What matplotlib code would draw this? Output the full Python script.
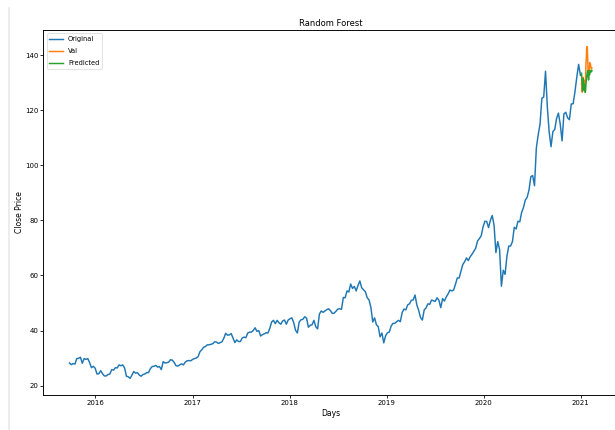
"""Random Forest close-price forecast: training history, validation and predictions."""
import matplotlib
matplotlib.use("Agg")
import matplotlib.pyplot as plt
from matplotlib.lines import Line2D
import pandas as pd

DPI = 48
LW = 2.2

# weekly closes used for training (Sep 2015 - Dec 2020)
train_close = [
    # 2015
    28.2, 27.6, 28.0, 27.8, 29.8, 29.9, 30.3, 28.1, 29.8, 29.5, 29.8, 28.3, 26.5, 27.0, 26.3,
    # 2016
    24.2, 24.3, 25.4, 24.3, 23.5, 23.5, 24.0, 24.2, 25.8, 25.6, 26.5, 26.4, 27.5, 27.2,
    27.5, 26.4, 23.4, 23.2, 22.6, 23.8, 25.1, 24.5, 24.7, 23.8, 23.4, 24.0, 24.2, 24.7,
    24.7, 26.1, 26.9, 27.0, 27.3, 26.7, 26.9, 25.8, 28.7, 28.2, 28.3, 28.5, 29.4, 29.2,
    28.4, 27.2, 27.1, 27.5, 27.9, 27.5, 28.5, 29.0, 29.1, 29.0,
    # 2017
    29.5, 29.8, 30.0, 30.5, 32.3, 33.0, 33.9, 34.2, 34.8, 34.8, 35.0, 35.2, 35.9, 35.8,
    35.3, 35.6, 35.9, 37.2, 39.0, 38.3, 38.4, 38.9, 37.2, 35.6, 36.6, 36.0, 36.0, 37.3,
    37.6, 37.4, 39.1, 39.4, 39.4, 40.0, 41.0, 39.7, 40.0, 38.0, 38.5, 38.8, 39.2, 39.1,
    40.8, 43.1, 43.7, 42.5, 43.7, 42.8, 42.3, 43.5, 43.8, 42.3,
    # 2018
    43.8, 44.3, 44.6, 42.9, 40.1, 39.1, 43.1, 43.9, 44.1, 45.0, 44.5, 41.2, 41.9, 42.1,
    43.7, 41.4, 40.6, 46.0, 47.1, 46.6, 47.1, 47.6, 47.9, 47.2, 46.2, 46.3, 47.0, 47.8,
    47.9, 47.7, 52.0, 51.9, 54.4, 54.0, 56.9, 55.3, 56.0, 54.4, 56.4, 58.0, 55.5, 54.8,
    54.1, 51.9, 51.1, 48.4, 43.1, 44.6, 42.1, 41.4, 37.7, 39.1,
    # 2019
    35.5, 38.1, 39.2, 39.4, 41.6, 42.6, 42.6, 43.2, 43.7, 43.2, 46.5, 47.8, 47.5, 49.3,
    49.7, 51.0, 51.1, 52.9, 49.3, 47.3, 44.7, 43.8, 47.5, 48.2, 49.7, 49.5, 51.1, 50.8,
    50.6, 51.9, 51.0, 48.3, 51.6, 50.7, 52.2, 53.3, 54.7, 54.4, 54.7, 56.8, 59.1, 59.1,
    61.6, 64.0, 65.0, 66.4, 65.4, 66.8, 67.7, 68.8, 69.9, 72.5, 73.4,
    # 2020
    74.4, 77.6, 79.7, 79.6, 77.4, 80.0, 81.8, 78.3, 68.3, 72.3, 69.5, 56.1, 61.9, 60.4,
    67.0, 70.7, 70.7, 72.3, 77.5, 76.9, 79.7, 79.5, 82.9, 84.7, 87.4, 88.4, 91.0, 95.9,
    96.3, 92.6, 106.3, 111.1, 114.9, 124.4, 124.8, 134.2, 121.0, 112.0, 106.8, 112.3,
    113.0, 117.0, 119.0, 115.0, 108.9, 118.7, 119.3, 117.3, 116.6, 122.3, 122.4, 126.7,
    132.0, 136.7, 132.7,
]

# daily closes held out for validation (Jan - Feb 2021)
val_close = [
    129.41, 131.01, 126.60, 130.92, 132.05, 128.98, 128.80, 130.89, 128.91, 127.14,
    127.83, 132.03, 136.87, 139.07, 142.92, 143.16, 142.06, 137.09, 131.96, 134.14,
    134.99, 133.94, 137.39, 136.76, 136.91, 136.01, 135.39, 135.13, 135.37,
]

# random forest output for the same days
pred_close = [
    133.5, 131.0, 129.5, 127.0, 129.0, 131.5, 128.5, 127.5, 129.5, 128.0,
    126.5, 127.0, 129.5, 131.0, 132.5, 133.0, 134.0, 134.5, 133.0, 131.0,
    132.5, 133.5, 133.0, 134.5, 134.5, 134.0, 134.5, 134.0, 134.5,
]

train_days = pd.date_range("2015-09-25", "2020-12-31", periods=len(train_close))
val_days = pd.date_range("2021-01-04", "2021-02-12", periods=len(val_close))

fig = plt.figure(figsize=(615 / DPI, 430 / DPI), dpi=DPI)
ax = fig.add_axes([43.3 / 615, 35 / 430, (618 - 43.3) / 615, 365 / 430])

ax.plot(train_days, train_close, lw=LW, label="Original")
ax.plot(val_days, val_close, lw=LW, label="Val")
ax.plot(val_days, pred_close, lw=LW, label="Predicted")

for side in ("left", "bottom", "top", "right"):
    ax.spines[side].set_linewidth(1.4)
ax.tick_params(width=1.2, length=4, labelsize=10.5)

ax.set_title("Random Forest", fontsize=12.5)
ax.set_xlabel("Days", fontsize=11.5)
ax.set_ylabel("Close Price", fontsize=11.5, labelpad=0.5)
ax.legend(loc="upper left", labelspacing=0.9, fontsize=10)

# notebook cell border on the left
fig.add_artist(Line2D([8.5 / 615, 8.5 / 615], [0, 1 - 8 / 430],
                      transform=fig.transFigure, color="#e6e6e6", lw=1.5 * 72 / DPI))

fig.savefig("out.png", dpi=DPI)
